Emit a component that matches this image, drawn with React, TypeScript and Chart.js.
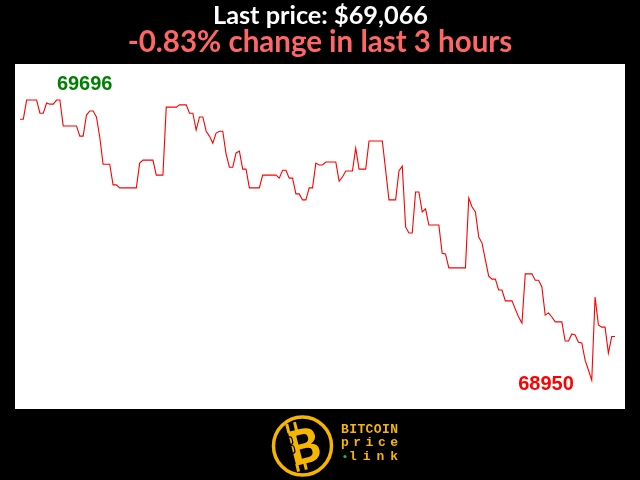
import React, { useEffect, useRef } from "react";
import { Chart, registerables } from "chart.js";

Chart.register(...registerables);

const TITLE = "Last price: $69,066";
const SUBTITLE = "-0.83% change in last 3 hours";
const LOGO_LINES = ["BITCOIN", "price", "link"];

// one price per minute over the last 3 hours (180 points)
const PRICES: number[] = [
  69645, 69645, 69696, 69696, 69696, 69696, 69661, 69661, 69688, 69685,
  69685, 69696, 69696, 69627, 69627, 69627, 69627, 69627, 69600, 69600,
  69656, 69667, 69667, 69651, 69597, 69525, 69525, 69525, 69470, 69470,
  69462, 69462, 69462, 69462, 69462, 69462, 69528, 69536, 69536, 69536,
  69536, 69496, 69496, 69496, 69677, 69677, 69677, 69677, 69683, 69683,
  69683, 69661, 69661, 69616, 69651, 69651, 69613, 69600, 69581, 69608,
  69613, 69613, 69552, 69517, 69517, 69555, 69560, 69512, 69512, 69462,
  69462, 69462, 69462, 69496, 69496, 69496, 69496, 69496, 69488, 69509,
  69509, 69488, 69488, 69446, 69446, 69430, 69430, 69462, 69462, 69528,
  69523, 69523, 69531, 69531, 69531, 69531, 69480, 69491, 69507, 69507,
  69507, 69568, 69512, 69512, 69512, 69587, 69587, 69587, 69587, 69587,
  69509, 69430, 69430, 69430, 69507, 69520, 69358, 69342, 69342, 69451,
  69451, 69398, 69406, 69363, 69363, 69363, 69363, 69288, 69286, 69249,
  69249, 69249, 69249, 69249, 69249, 69435, 69411, 69398, 69331, 69315,
  69270, 69227, 69219, 69219, 69190, 69190, 69161, 69161, 69161, 69139,
  69118, 69102, 69233, 69233, 69233, 69216, 69216, 69198, 69123, 69129,
  69118, 69105, 69105, 69105, 69054, 69054, 69073, 69070, 69051, 69049,
  69003, 68977, 68950, 69171, 69097, 69091, 69091, 69022, 69066, 69066,
];

const MINUTES: number[] = PRICES.map((_, i) => i);

const Y_MIN = 68873;
const Y_MAX = 69792;

const YELLOW = "#f6b500";

export default function App() {
  const canvasRef = useRef<HTMLCanvasElement | null>(null);

  useEffect(() => {
    const canvas = canvasRef.current;
    if (!canvas) return;

    const bgPlugin = {
      id: "bg",
      beforeDraw(chart: any) {
        const { ctx, chartArea } = chart;
        ctx.save();
        ctx.fillStyle = "#000";
        ctx.fillRect(0, 0, chart.width, chart.height);
        ctx.fillStyle = "#fff";
        ctx.fillRect(
          chartArea.left,
          chartArea.top,
          chartArea.right - chartArea.left,
          chartArea.bottom - chartArea.top
        );
        ctx.restore();
      },
    };

    const extremesPlugin = {
      id: "extremes",
      afterDatasetsDraw(chart: any) {
        const { ctx, scales } = chart;
        const xs = scales.x;
        const ys = scales.y;
        let maxV = -Infinity;
        let minV = Infinity;
        let maxI = 0;
        let minI = 0;
        PRICES.forEach((v, i) => {
          if (v >= maxV) {
            maxV = v;
            maxI = i;
          }
          if (v < minV) {
            minV = v;
            minI = i;
          }
        });
        ctx.save();
        ctx.font = "bold 20px 'Liberation Sans', Arial, sans-serif";
        ctx.textBaseline = "alphabetic";
        ctx.fillStyle = "#008000";
        ctx.textAlign = "left";
        ctx.fillText(String(maxV), xs.getPixelForValue(maxI) - 3, ys.getPixelForValue(maxV) - 10);
        ctx.fillStyle = "#ff0000";
        ctx.textAlign = "right";
        ctx.fillText(String(minV), xs.getPixelForValue(minI) - 18, ys.getPixelForValue(minV) + 10);
        ctx.restore();
      },
    };

    const chart = new Chart(canvas, {
      type: "line",
      data: {
        datasets: [
          {
            data: PRICES.map((p, i) => ({ x: MINUTES[i], y: p })),
            borderColor: "#ff0000",
            borderWidth: 1.1,
            pointRadius: 0,
            tension: 0,
            fill: false,
          },
        ],
      },
      options: {
        animation: false,
        responsive: false,
        maintainAspectRatio: false,
        layout: { padding: { left: 15, right: 15, top: 64, bottom: 71 } },
        plugins: {
          legend: { display: false },
          tooltip: { enabled: false },
          title: { display: false },
        },
        scales: {
          x: { type: "linear", min: -1.5, max: 182, display: false },
          y: { type: "linear", min: Y_MIN, max: Y_MAX, display: false },
        },
      },
      plugins: [bgPlugin, extremesPlugin],
    });

    return () => chart.destroy();
  }, []);

  return (
    <div
      style={{
        position: "absolute",
        left: 0,
        top: 0,
        width: 640,
        height: 480,
        background: "#000",
        overflow: "hidden",
      }}
    >
      <canvas
        ref={canvasRef}
        width={640}
        height={480}
        style={{ position: "absolute", left: 0, top: 0, width: 640, height: 480 }}
      />
      <svg
        width={640}
        height={480}
        style={{ position: "absolute", left: 0, top: 0, pointerEvents: "none" }}
      >
        <text
          x={320.5}
          y={24.3}
          textAnchor="middle"
          fontFamily="Lato, sans-serif"
          fontWeight={700}
          fontSize={25.3}
          fill="#ffffff"
        >
          {TITLE}
        </text>
        <text
          x={320}
          y={51.7}
          textAnchor="middle"
          fontFamily="Lato, sans-serif"
          fontWeight={700}
          fontSize={29.5}
          fill="#ff6666"
        >
          {SUBTITLE}
        </text>

        {/* logo */}
        <circle cx={302.5} cy={446} r={29} fill="none" stroke={YELLOW} strokeWidth={3.5} />
        <g transform="rotate(-14 302 446)">
          <rect x={291} y={421} width={3} height={9} fill={YELLOW} />
          <rect x={299} y={421} width={3} height={9} fill={YELLOW} />
          <rect x={291} y={462} width={3} height={8} fill={YELLOW} />
          <rect x={299} y={462} width={3} height={8} fill={YELLOW} />
          <text
            x={304}
            y={464}
            textAnchor="middle"
            fontFamily="Lato, sans-serif"
            fontWeight={900}
            fontSize={48}
            fill={YELLOW}
          >
            B
          </text>
          <rect x={289} y={434} width={5} height={8} rx={2.5} fill="none" stroke="#000" strokeWidth={1.2} />
          <rect x={289} y={443} width={5} height={8} rx={2.5} fill="none" stroke="#000" strokeWidth={1.2} />
        </g>
        <text
          x={341}
          y={433}
          textLength={57}
          lengthAdjust="spacing"
          fontFamily="'Liberation Mono', monospace"
          fontWeight={700}
          fontSize={13}
          fill={YELLOW}
        >
          {LOGO_LINES[0]}
        </text>
        <text
          x={341}
          y={446}
          textLength={57}
          lengthAdjust="spacing"
          fontFamily="'Liberation Mono', monospace"
          fontWeight={700}
          fontSize={13}
          fill={YELLOW}
        >
          {LOGO_LINES[1]}
        </text>
        <circle cx={345} cy={456.5} r={1.6} fill="#22c022" />
        <text
          x={349}
          y={459.5}
          textLength={49}
          lengthAdjust="spacing"
          fontFamily="'Liberation Mono', monospace"
          fontWeight={700}
          fontSize={13}
          fill={YELLOW}
        >
          {LOGO_LINES[2]}
        </text>
      </svg>
    </div>
  );
}
